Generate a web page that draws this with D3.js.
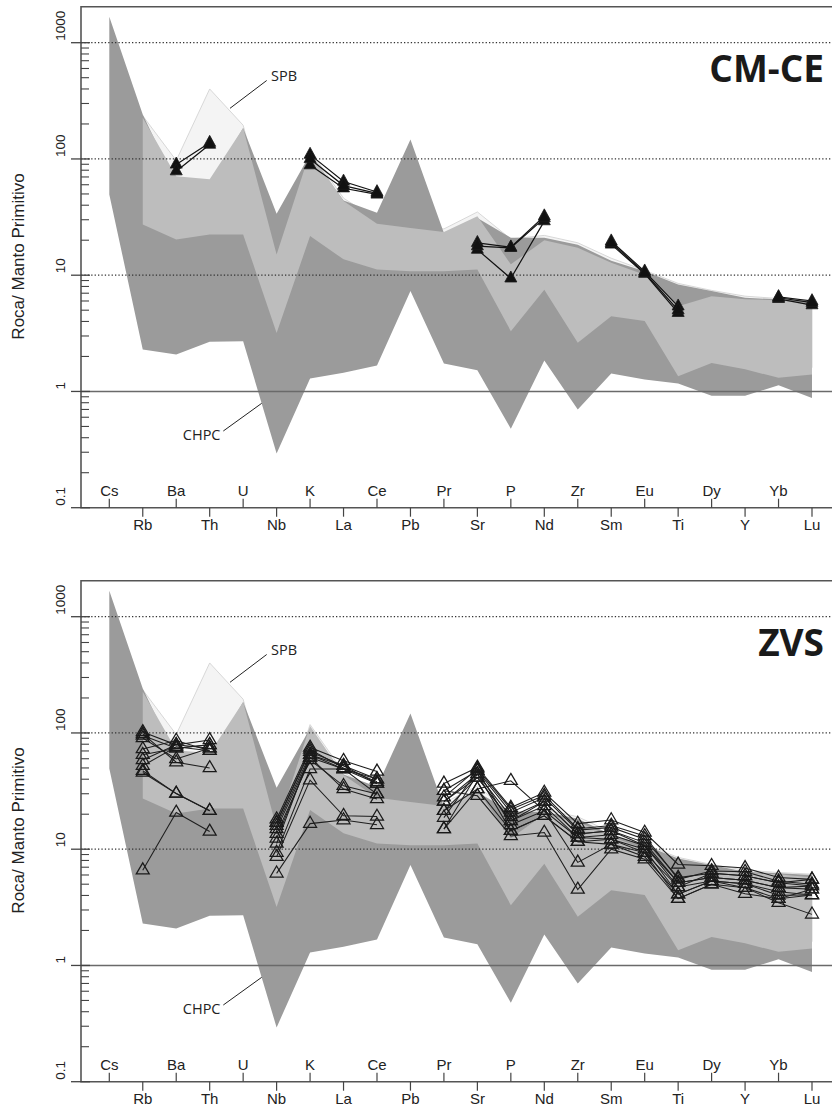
<!DOCTYPE html>
<html>
<head>
<meta charset="utf-8">
<script src="https://cdn.jsdelivr.net/npm/d3@7"></script>
<style>
  html, body { margin: 0; padding: 0; background: #fff; }
  svg { display: block; }
</style>
</head>
<body>
<svg id="chart" width="832" height="1106"></svg>
<script>
// Trace elements, normalised to primitive mantle
const elements = ["Cs","Rb","Ba","Th","U","Nb","K","La","Ce","Pb","Pr","Sr","P","Nd","Zr","Sm","Eu","Ti","Dy","Y","Yb","Lu"];
const yTicks = [0.1, 1, 10, 100, 1000];
const yTickLabels = ["0.1", "1", "10", "100", "1000"];

// CHPC field (dark envelope)
const chpcUpper = [1670, 241, 60, 60, 185, 33.7, 110, 44, 34.4, 147, 23.1, 31, 21, 21, 18.3, 13.3, 10.8, 8.3, 7.3, 6.4, 6.2, 6.0];
const chpcLower = [49.5, 2.3, 2.08, 2.67, 2.7, 0.293, 1.29, 1.45, 1.67, 7.3, 1.74, 1.52, 0.477, 1.85, 0.70, 1.43, 1.27, 1.17, 0.92, 0.92, 1.13, 0.88];
// intermediate field (mid grey)
const midUpper = [null, 226, 71, 67, 185, 15.1, 115, 43.4, 27.7, 25.5, 23.5, 32.2, 12.4, 20, 17.2, 12.8, 10.1, 5.4, 6.6, 6.2, 6.1, 5.7];
const midLower = [null, 27.3, 20.3, 22.4, 22.4, 3.19, 21.7, 13.7, 11.2, 10.8, 10.8, 11.2, 3.3, 7.5, 2.62, 4.44, 4.03, 1.35, 1.76, 1.55, 1.31, 1.4];
// SPB field (pale)
const spbUpper = [null, 235, 97, 400, 195, 16, 118, 46, 30, 26, 25, 35, 20.5, 22, 19, 14, 11, 8.5, 7.4, 6.6, 6.3, 6.1];
const spbLower = [null, 30, 22, 24, 24, 4, 23, 15, 12, 11, 11, 12, 4, 8, 3, 5, 4.5, 1.6, 2, 1.8, 1.5, 1.6];

// CM-CE samples
const cmceA = [null, null, 89.7, 138, null, null, 109, 64, 52, null, null, 19, 17.4, 32.2, null, 19.6, 10.8, 5.4, null, null, 6.5, 6.0];
const cmceB = [null, null, 78.5, 133, null, null, 88.5, 56, 49.5, null, null, 16.6, 9.4, 29.2, null, 18.4, 10.3, 4.75, null, null, 6.26, 5.53];
const cmceC = [null, null, null, null, null, null, 100, 59, 50.5, null, null, 17.8, 17.2, 31, null, 19, 10.5, 5.0, null, null, 6.4, 5.8];

// ZVS samples
const zvs1  = [null, 102, 79, 87, null, 18.1, 75, 57.7, 46.7, null, 36.8, 50.5, 22.8, 30.7, 16.6, 17.8, 13.9, 7.4, 7.2, 6.9, 5.7, 5.5];
const zvs2  = [null, 95, 74, 79, null, 16.9, 69, 52.2, 40.1, null, 31.8, 47.3, 20.7, 27.8, 14.6, 15.4, 12.2, 5.7, 6.2, 5.9, 5.15, 4.83];
const zvs3  = [null, 90.5, 59.7, 74, null, 15.9, 65, 49, 36.8, null, 25.7, 44.3, 19, 25.7, 13.5, 14.4, 11.4, 5.15, 5.7, 5.4, 4.67, 4.52];
const zvs4  = [null, 72.8, 86, 70.4, null, 14.9, 61.6, 49, 29.8, null, 21.4, 41.4, 17.5, 23.6, 12.6, 13.3, 10.7, 4.73, 5.33, 5.05, 4.31, 4.04];
const zvs5  = [null, 65, 74, 79, null, 13.6, 58.5, 35.1, 29.8, null, 18.7, 47.3, 16.2, 21.4, 12.6, 12.2, 10, 4.1, 5.33, 5.05, 4.01, 4.04];
const zvs6  = [null, 58.5, 79, 74, null, 12.4, 61.6, 32.9, 27, null, 14.9, 44.3, 14.4, 19.4, 11.6, 11, 9.35, 3.75, 5, 4.67, 3.75, 4.52];
const zvs7  = [null, 52.2, 76, 70.4, null, 11.2, 65, 52.2, 36.8, null, 25.7, 41.4, 17.5, 25.7, 13.5, 14.4, 10.7, 5.15, 5.7, 5.4, 4.67, 4.83];
const zvs8  = [null, 47.3, 30.1, 21.4, null, 9.35, 49, 49, 40.1, null, 21.4, 32.9, 38.8, 21.4, 7.7, 11, 8.6, 4.1, 5.33, 4.67, 3.46, 2.75];
const zvs9  = [null, 45.7, 30.1, 21.4, null, 8.6, 39.3, 19.4, 19.1, null, 31.8, 28.8, 13, 13.9, 4.5, 10, 8.2, 3.75, 5, 4.14, 3.75, 4.04];
const zvs10 = [null, 6.6, 20.7, 14.2, null, 6.2, 16.6, 17.8, 16.2, null, 14.9, 32.9, 14.4, 19.4, 11.6, 12.2, 9.35, 4.73, 6.2, 5.9, 5.15, 5.5];
const zvs11 = [null, 98, 56, 50, null, 17, 72, 50, 38, null, 28, 49, 22, 29, 15, 16, 13, 5.5, 6.5, 6.4, 5.3, 5.0];

const cmceSamples = [cmceA, cmceB, cmceC];
const zvsSamples = [zvs1, zvs2, zvs3, zvs4, zvs5, zvs6, zvs7, zvs8, zvs9, zvs10, zvs11];

// ---------------------------------------------------------------------------
const svg = d3.select("#chart");
const axisFont = "'Liberation Sans', Arial, sans-serif";
const labelFont = "'Open Sans', 'Noto Sans', sans-serif";

const x = d3.scalePoint().domain(elements).range([109.3, 812]);
const y = d3.scaleLog().domain([0.1, 1000]).range([507.7, 42.7]);

const frameLeft = 81, frameRight = 832, frameTop = 6.7;
const axisY = y(0.1);

function fieldArea(upper, lower) {
  return d3.area()
    .defined((d, i) => upper[i] != null)
    .x(d => x(d))
    .y0((d, i) => y(lower[i]))
    .y1((d, i) => y(upper[i]))(elements);
}

function triPath(w, h) {
  return `M0,${-h * 2 / 3}L${w / 2},${h / 3}L${-w / 2},${h / 3}Z`;
}

function drawPanel(offsetY, title, samples, filled) {
  const g = svg.append("g").attr("transform", `translate(0,${offsetY})`);

  // fields
  g.append("path").attr("d", fieldArea(spbUpper, spbLower))
    .attr("fill", "#f4f4f4").attr("stroke", "#d4d4d4").attr("stroke-width", 0.9);
  g.append("path").attr("d", fieldArea(chpcUpper, chpcLower))
    .attr("fill", "#9b9b9b");
  g.append("path").attr("d", fieldArea(midUpper, midLower))
    .attr("fill", "#bdbdbd");

  // horizontal reference lines
  yTicks.slice(2).forEach(v => {
    g.append("line")
      .attr("x1", frameLeft).attr("x2", frameRight)
      .attr("y1", y(v)).attr("y2", y(v))
      .attr("stroke", "#333").attr("stroke-width", 1.2)
      .attr("stroke-dasharray", "1.3,2.1");
  });
  g.append("line")
    .attr("x1", frameLeft).attr("x2", frameRight)
    .attr("y1", y(1)).attr("y2", y(1))
    .attr("stroke", "#6a6a6a").attr("stroke-width", 1.6);

  // frame
  g.append("path")
    .attr("d", `M${frameRight},${frameTop}H${frameLeft}V${axisY}H${frameRight}`)
    .attr("fill", "none").attr("stroke", "#555").attr("stroke-width", 1.6);

  // y ticks
  yTicks.forEach((v, i) => {
    g.append("line").attr("x1", 71).attr("x2", 90)
      .attr("y1", y(v)).attr("y2", y(v))
      .attr("stroke", "#444").attr("stroke-width", 1.3);
    g.append("text")
      .attr("transform", `translate(64.5,${y(v) - 2}) rotate(-90)`)
      .attr("text-anchor", "start")
      .attr("font-family", axisFont).attr("font-size", 13.5).attr("fill", "#222")
      .text(yTickLabels[i]);
  });
  yTicks.slice(0, 4).forEach(d => {
    d3.range(2, 10).forEach(k => {
      g.append("line").attr("x1", frameLeft).attr("x2", 89)
        .attr("y1", y(d * k)).attr("y2", y(d * k))
        .attr("stroke", "#444").attr("stroke-width", 1.1);
    });
  });

  // y title
  g.append("text")
    .attr("transform", `translate(24,256.5) rotate(-90)`)
    .attr("text-anchor", "middle")
    .attr("font-family", axisFont).attr("font-size", 17).attr("fill", "#222")
    .text("Roca/ Manto Primitivo");

  // element ticks and labels, alternating above and below the axis
  elements.forEach((el, i) => {
    const up = i % 2 === 0;
    g.append("line")
      .attr("x1", x(el)).attr("x2", x(el))
      .attr("y1", axisY).attr("y2", up ? axisY - 9 : axisY + 9)
      .attr("stroke", "#444").attr("stroke-width", 1.2);
    g.append("text")
      .attr("x", x(el)).attr("y", up ? axisY - 12 : axisY + 22.5)
      .attr("text-anchor", "middle")
      .attr("font-family", axisFont).attr("font-size", 15).attr("fill", "#222")
      .text(el);
  });

  // field annotations
  g.append("line").attr("x1", 266.7).attr("y1", 80.5).attr("x2", 230).attr("y2", 108.3)
    .attr("stroke", "#222").attr("stroke-width", 1);
  g.append("text").attr("x", 271).attr("y", 80.5)
    .attr("font-family", labelFont).attr("font-size", 14.5).attr("fill", "#222")
    .text("SPB");
  g.append("line").attr("x1", 223.3).attr("y1", 431).attr("x2", 261.7).attr("y2", 403.3)
    .attr("stroke", "#222").attr("stroke-width", 1);
  g.append("text").attr("x", 220.5).attr("y", 440).attr("text-anchor", "end")
    .attr("font-family", labelFont).attr("font-size", 14.5).attr("fill", "#222")
    .text("CHPC");

  // sample patterns
  const line = d3.line()
    .defined(d => d.v != null)
    .x(d => x(d.el)).y(d => y(d.v));
  const rows = samples.map(s => elements.map((el, i) => ({ el, v: s[i] })));

  g.append("g").selectAll("path").data(rows).join("path")
    .attr("d", line)
    .attr("fill", "none")
    .attr("stroke", filled ? "#111" : "#1e1e1e")
    .attr("stroke-width", filled ? 1.2 : 1.05);

  const pts = rows.flat().filter(d => d.v != null);
  g.append("g").selectAll("path").data(pts).join("path")
    .attr("transform", d => `translate(${x(d.el)},${y(d.v)})`)
    .attr("d", filled ? triPath(12, 11) : triPath(13, 11))
    .attr("fill", filled ? "#111" : "none")
    .attr("stroke", "#1a1a1a")
    .attr("stroke-width", filled ? 0.8 : 1.25)
    .attr("stroke-linejoin", "miter");

  // panel title
  g.append("text").attr("x", 824).attr("y", 81.5).attr("text-anchor", "end")
    .attr("font-family", labelFont).attr("font-weight", 700).attr("font-size", 37)
    .attr("fill", "#1a1a1a")
    .text(title);
}

drawPanel(0, "CM-CE", cmceSamples, true);
drawPanel(574, "ZVS", zvsSamples, false);
</script>
</body>
</html>
